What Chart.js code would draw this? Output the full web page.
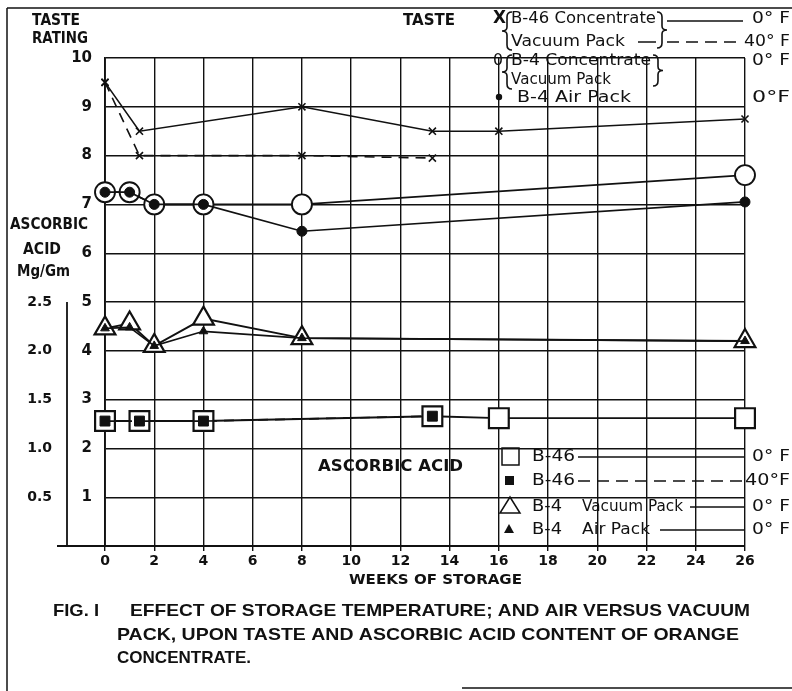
<!DOCTYPE html>
<html>
<head>
<meta charset="utf-8">
<script src="https://cdn.jsdelivr.net/npm/chart.js@4.4.1/dist/chart.umd.min.js"></script>
<style>
  html, body { margin: 0; padding: 0; background: #fff; }
  #wrap { width: 792px; height: 691px; }
</style>
</head>
<body>
<div id="wrap"><canvas id="fig" width="792" height="691"></canvas></div>
<script>
/* data */
const weekTicks = [0, 2, 4, 6, 8, 10, 12, 14, 16, 18, 20, 22, 24, 26];
const tasteTicks = [1, 2, 3, 4, 5, 6, 7, 8, 9, 10];
const acidTicks = [0.5, 1.0, 1.5, 2.0, 2.5];

// taste, B-46 concentrate vacuum pack
const b46TasteWeeks = [0, 1.4, 8, 13.3, 16, 26];
const b46Taste0F = [9.5, 8.5, 9.0, 8.5, 8.5, 8.75];
const b46TasteWeeks40 = [0, 1.4, 8, 13.3];
const b46Taste40F = [9.5, 8.0, 8.0, 7.95];

// taste, B-4 concentrate
const b4TasteWeeks = [0, 1, 2, 4, 8, 26];
const b4TasteVacuum = [7.25, 7.25, 7.0, 7.0, 7.0, 7.6];
const b4TasteAir = [7.25, 7.25, 7.0, 7.0, 6.45, 7.05];

// ascorbic acid mg/gm, B-4
const b4AcidWeeks = [0, 1, 2, 4, 8, 26];
const b4AcidVacuum = [2.23, 2.28, 2.05, 2.33, 2.13, 2.1];
const b4AcidAir = [2.23, 2.24, 2.05, 2.2, 2.13, 2.1];

// ascorbic acid mg/gm, B-46
const b46AcidWeeks = [0, 1.4, 4, 13.3, 16, 26];
const b46Acid0F = [1.28, 1.28, 1.28, 1.33, 1.31, 1.31];
const b46AcidWeeks40 = [0, 1.4, 4, 13.3];
const b46Acid40F = [1.28, 1.28, 1.28, 1.33];

function pts(xs, ys) {
  return xs.map((x, i) => ({ x: x, y: ys[i] }));
}

const INK = '#111';
const SANS = '"DejaVu Sans", "Liberation Sans", sans-serif';

// text squeezed/stretched to a width (old lettering is wide)
function txt(ctx, s, x, y, w, font) {
  ctx.save();
  ctx.font = font;
  ctx.fillStyle = INK;
  ctx.textBaseline = 'middle';
  ctx.textAlign = 'left';
  const m = ctx.measureText(s).width;
  ctx.translate(x, y);
  if (w) ctx.scale(w / m, 1);
  ctx.fillText(s, 0, 0);
  ctx.restore();
}

function line(ctx, x1, y1, x2, y2, dash, lw) {
  ctx.save();
  ctx.strokeStyle = INK;
  ctx.lineWidth = lw || 1.5;
  ctx.setLineDash(dash || []);
  ctx.beginPath();
  ctx.moveTo(x1, y1);
  ctx.lineTo(x2, y2);
  ctx.stroke();
  ctx.restore();
}

function brace(ctx, x, y1, y2, dir) {
  // dir 1 = '{', -1 = '}'
  const m = (y1 + y2) / 2, d = 5 * dir;
  ctx.save();
  ctx.strokeStyle = INK;
  ctx.lineWidth = 1.6;
  ctx.beginPath();
  ctx.moveTo(x + d, y1);
  ctx.quadraticCurveTo(x, y1, x, y1 + 5);
  ctx.lineTo(x, m - 4);
  ctx.quadraticCurveTo(x, m, x - d, m);
  ctx.quadraticCurveTo(x, m, x, m + 4);
  ctx.lineTo(x, y2 - 5);
  ctx.quadraticCurveTo(x, y2, x + d, y2);
  ctx.stroke();
  ctx.restore();
}

const extras = {
  id: 'extras',
  afterDraw(chart) {
    const ctx = chart.ctx;
    const xs = chart.scales.x, ya = chart.scales.y2;
    const base = xs.bottom - xs.height;

    // page frame
    line(ctx, 7, 8, 792, 8, null, 1.5);
    line(ctx, 7, 8, 7, 691, null, 1.5);
    line(ctx, 462, 688, 792, 688, null, 1.5);

    // baseline running left under both axes, and the ascorbic acid axis
    line(ctx, 57, base, chart.chartArea.left, base, null, 1.8);
    line(ctx, ya.right, ya.getPixelForValue(2.5), ya.right, base, null, 1.8);

    const B = 'bold 15px ' + SANS;
    const R = '15px ' + SANS;

    // axis captions
    txt(ctx, 'TASTE', 32, 21, 48, B);
    txt(ctx, 'RATING', 32, 39, 56, B);
    txt(ctx, 'ASCORBIC', 10, 225, 78, B);
    txt(ctx, 'ACID', 23, 250, 38, B);
    txt(ctx, 'Mg/Gm', 17, 272, 53, B);

    txt(ctx, 'TASTE', 403, 21, 52, 'bold 16px ' + SANS);
    txt(ctx, 'ASCORBIC ACID', 318, 467, 145, 'bold 16px ' + SANS);
    txt(ctx, 'WEEKS OF STORAGE', 349, 580, 173, 'bold 14px ' + SANS);

    // taste legend, top right
    txt(ctx, 'X', 493, 19, 13, 'bold 17px ' + SANS);
    brace(ctx, 507, 12, 50, 1);
    txt(ctx, 'B-46 Concentrate', 511, 19, 145, R);
    txt(ctx, 'Vacuum Pack', 511, 42, 114, R);
    line(ctx, 638, 42, 656, 42);
    brace(ctx, 662, 12, 48, -1);
    line(ctx, 667, 21, 743, 21);
    line(ctx, 667, 42, 743, 42, [12, 7]);
    txt(ctx, '0° F', 752, 19, 38, R);
    txt(ctx, '40° F', 744, 42, 46, R);

    txt(ctx, '0', 493, 61, 10, R);
    brace(ctx, 507, 55, 89, 1);
    txt(ctx, 'B-4 Concentrate', 511, 61, 140, R);
    txt(ctx, 'Vacuum Pack', 511, 80, 100, R);
    brace(ctx, 658, 55, 86, -1);
    txt(ctx, '0° F', 752, 61, 38, R);
    ctx.beginPath();
    ctx.arc(499, 97, 3.2, 0, Math.PI * 2);
    ctx.fillStyle = INK;
    ctx.fill();
    txt(ctx, 'B-4 Air Pack', 517, 98, 114, R);
    txt(ctx, '0°F', 752, 98, 38, R);

    // ascorbic acid legend, bottom right
    ctx.save();
    ctx.strokeStyle = INK;
    ctx.lineWidth = 1.5;
    ctx.strokeRect(502, 448, 17, 17);
    ctx.fillStyle = INK;
    ctx.fillRect(505, 476, 9, 9);
    ctx.beginPath();
    ctx.moveTo(510, 497);
    ctx.lineTo(520, 513);
    ctx.lineTo(500, 513);
    ctx.closePath();
    ctx.stroke();
    ctx.beginPath();
    ctx.moveTo(509, 524);
    ctx.lineTo(514, 533);
    ctx.lineTo(504, 533);
    ctx.closePath();
    ctx.fill();
    ctx.restore();

    txt(ctx, 'B-46', 532, 457, 43, R);
    line(ctx, 578, 457, 745, 457);
    txt(ctx, '0° F', 752, 457, 38, R);
    txt(ctx, 'B-46', 532, 481, 43, R);
    line(ctx, 578, 481, 745, 481, [12, 7]);
    txt(ctx, '40°F', 745, 481, 45, R);
    txt(ctx, 'B-4', 532, 507, 30, R);
    txt(ctx, 'Vacuum Pack', 582, 507, 101, R);
    line(ctx, 690, 507, 745, 507);
    txt(ctx, '0° F', 752, 507, 38, R);
    txt(ctx, 'B-4', 532, 530, 30, R);
    txt(ctx, 'Air Pack', 582, 530, 68, R);
    line(ctx, 660, 530, 745, 530);
    txt(ctx, '0° F', 752, 530, 38, R);

    // figure caption
    const C = 'bold 17px "Liberation Sans", sans-serif';
    txt(ctx, 'FIG. I', 53, 611, 46, C);
    txt(ctx, 'EFFECT OF STORAGE TEMPERATURE; AND AIR VERSUS VACUUM', 130, 611, 620, C);
    txt(ctx, 'PACK, UPON TASTE AND ASCORBIC ACID CONTENT OF ORANGE', 117, 635, 622, C);
    txt(ctx, 'CONCENTRATE.', 117, 658, 134, C);
  }
};

const tickFont = { family: SANS, weight: 'bold', size: 14 };

new Chart(document.getElementById('fig'), {
  type: 'line',
  data: {
    datasets: [
      {
        data: pts(b46TasteWeeks, b46Taste0F), yAxisID: 'y',
        borderColor: INK, borderWidth: 1.6,
        pointStyle: 'crossRot', pointRadius: 5, pointBorderWidth: 1.6, pointBorderColor: INK,
        order: 0
      },
      {
        data: pts(b46TasteWeeks40, b46Taste40F), yAxisID: 'y',
        borderColor: INK, borderWidth: 1.6, borderDash: [10, 7],
        pointStyle: 'crossRot', pointRadius: 5, pointBorderWidth: 1.6, pointBorderColor: INK,
        order: 0
      },
      {
        data: pts(b4TasteWeeks, b4TasteVacuum), yAxisID: 'y',
        borderColor: INK, borderWidth: 1.7,
        pointStyle: 'circle', pointRadius: 10, pointBorderWidth: 1.9,
        pointBorderColor: INK, pointBackgroundColor: '#fff',
        order: 2
      },
      {
        data: pts(b4TasteWeeks, b4TasteAir), yAxisID: 'y',
        borderColor: INK, borderWidth: 1.7,
        pointStyle: 'circle', pointRadius: 5, pointBorderWidth: 1,
        pointBorderColor: INK, pointBackgroundColor: INK,
        order: 1
      },
      {
        data: pts(b4AcidWeeks, b4AcidVacuum), yAxisID: 'y2',
        borderColor: INK, borderWidth: 1.9,
        pointStyle: 'triangle', pointRadius: 12, pointBorderWidth: 2.2,
        pointBorderColor: INK, pointBackgroundColor: '#fff',
        order: 2
      },
      {
        data: pts(b4AcidWeeks, b4AcidAir), yAxisID: 'y2',
        borderColor: INK, borderWidth: 1.7,
        pointStyle: 'triangle', pointRadius: 5, pointBorderWidth: 1,
        pointBorderColor: INK, pointBackgroundColor: INK,
        order: 1
      },
      {
        data: pts(b46AcidWeeks, b46Acid0F), yAxisID: 'y2',
        borderColor: INK, borderWidth: 1.9,
        pointStyle: 'rect', pointRadius: 14, pointBorderWidth: 2.2,
        pointBorderColor: INK, pointBackgroundColor: '#fff',
        order: 2
      },
      {
        data: pts(b46AcidWeeks40, b46Acid40F), yAxisID: 'y2',
        borderColor: INK, borderWidth: 1.7, borderDash: [10, 7],
        pointStyle: 'rect', pointRadius: 7, pointBorderWidth: 1,
        pointBorderColor: INK, pointBackgroundColor: INK,
        order: 1
      }
    ].map(d => Object.assign({ clip: false, fill: false, tension: 0 }, d))
  },
  options: {
    responsive: false,
    animation: false,
    layout: { padding: { left: 10, top: 58, right: 47, bottom: 115 } },
    plugins: { legend: { display: false }, tooltip: { enabled: false } },
    scales: {
      x: {
        type: 'linear', min: 0, max: 26,
        afterBuildTicks: s => { s.ticks = weekTicks.map(v => ({ value: v })); },
        afterFit: s => { s.height = 30; },
        ticks: { color: INK, font: tickFont, padding: 2, maxRotation: 0 },
        grid: { color: INK, lineWidth: 1.4, tickLength: 5 },
        border: { color: INK, width: 1.9 }
      },
      y: {
        type: 'linear', min: 0, max: 10, position: 'left', weight: 0,
        afterBuildTicks: s => { s.ticks = tasteTicks.map(v => ({ value: v })); },
        afterFit: s => { s.width = 38; },
        ticks: { color: INK, font: { family: SANS, weight: 'bold', size: 15 }, padding: 13 },
        grid: { color: INK, lineWidth: 1.4, drawTicks: false },
        border: { color: INK, width: 1.9 }
      },
      y2: {
        type: 'linear', min: 0, max: 5, position: 'left', weight: 1,
        afterBuildTicks: s => { s.ticks = acidTicks.map(v => ({ value: v })); },
        afterFit: s => { s.width = 57; },
        ticks: { color: INK, font: tickFont, padding: 15, callback: v => v.toFixed(1) },
        grid: { display: false, drawTicks: false },
        border: { display: false }
      }
    }
  },
  plugins: [extras]
});
</script>
</body>
</html>
